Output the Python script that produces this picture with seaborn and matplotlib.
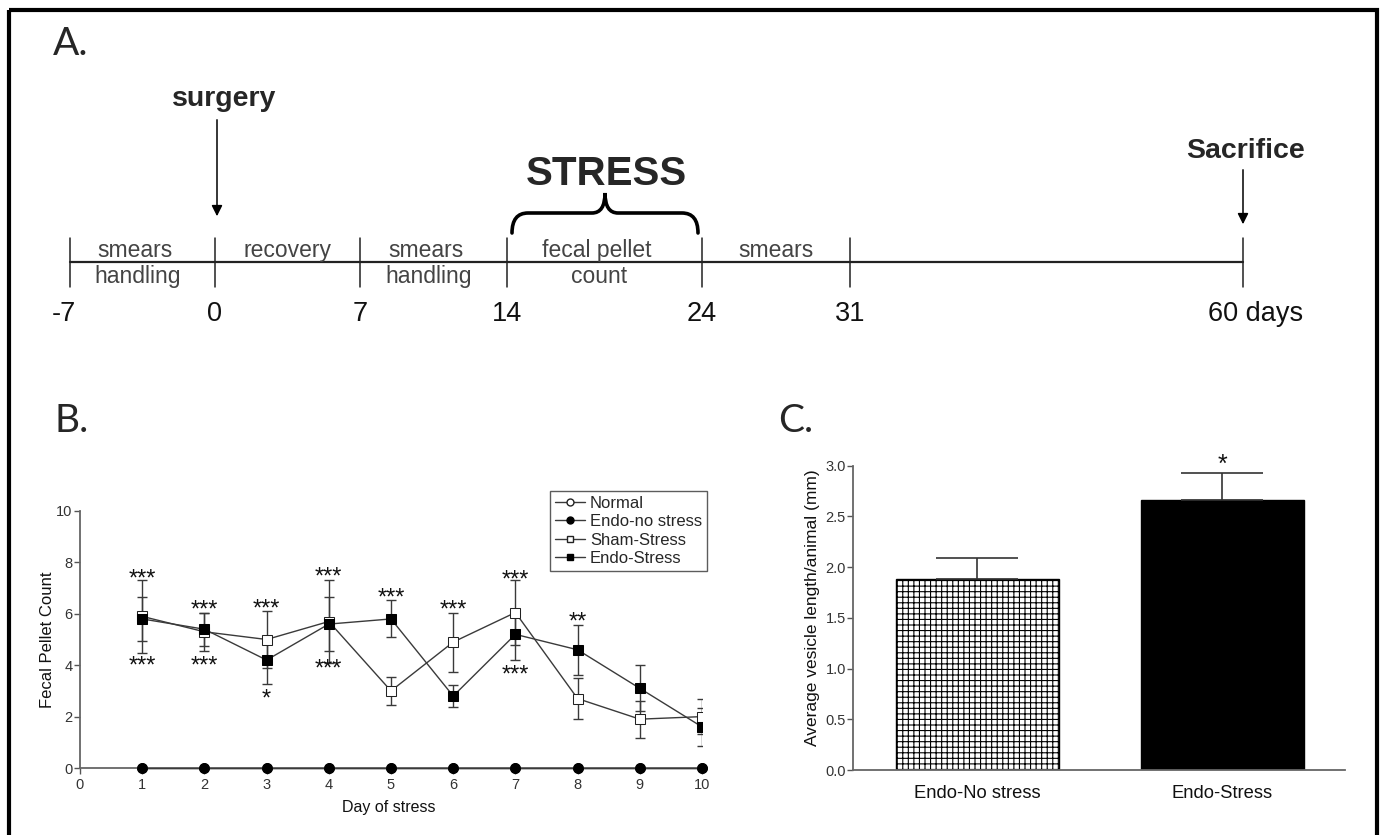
import matplotlib
matplotlib.use("Agg")
import matplotlib.pyplot as plt
from matplotlib.lines import Line2D
from matplotlib.path import Path
from matplotlib.patches import PathPatch, Rectangle
import seaborn as sns
import pandas as pd

# ---------------- data ----------------
# Panel A timeline
timeline_days = ["-7", "0", "7", "14", "24", "31", "60 days"]
segment_top = ["smears", "recovery", "smears", "fecal pellet", "smears"]
segment_bottom = ["handling", "", "handling", "count", ""]

# Panel B
days = [1, 2, 3, 4, 5, 6, 7, 8, 9, 10]
normal_counts = [0, 0, 0, 0, 0, 0, 0, 0, 0, 0]
endo_nostress_counts = [0, 0, 0, 0, 0, 0, 0, 0, 0, 0]
sham_stress_mean = [5.9, 5.3, 5.0, 5.7, 3.0, 4.9, 6.05, 2.7, 1.9, 2.0]
sham_stress_sem = [1.43, 0.75, 1.12, 1.6, 0.53, 1.15, 1.25, 0.8, 0.72, 0.68]
endo_stress_mean = [5.8, 5.4, 4.2, 5.6, 5.8, 2.8, 5.2, 4.6, 3.1, 1.6]
endo_stress_sem = [0.86, 0.65, 0.95, 1.05, 0.72, 0.42, 1.0, 0.98, 0.9, 0.75]
series_labels = ["Normal", "Endo-no stress", "Sham-Stress", "Endo-Stress"]
star_days = [1, 1, 2, 2, 3, 3, 4, 4, 5, 6, 7, 7, 8]
star_levels = [7.57, 4.18, 6.34, 4.18, 6.41, 2.9, 7.64, 4.07, 6.82, 6.34, 7.53, 3.81, 5.89]
star_texts = ["***", "***", "***", "***", "***", "*", "***", "***", "***", "***", "***", "***", "**"]

# Panel C
groups = ["Endo-No stress", "Endo-Stress"]
vesicle_length = [1.88, 2.66]
vesicle_sem = [0.21, 0.27]
c_star = "*"

# ---------------- style ----------------
sns.set_style("ticks")
plt.rcParams["font.family"] = ["Liberation Sans", "DejaVu Sans"]
plt.rcParams["hatch.linewidth"] = 0.8

W, H = 1383, 835
fig = plt.figure(figsize=(W / 100, H / 100), dpi=100)

# ---------------- Panel A (pixel-space canvas) ----------------
axT = fig.add_axes([0, 0, 1, 1])
axT.set_xlim(0, W)
axT.set_ylim(H, 0)
axT.axis("off")

# border
axT.add_patch(Rectangle((9, 10), 1368, 840, fill=False, lw=3, ec="black", clip_on=False))

# panel letters
for txt, x, y in [("A.", 53, 55), ("B.", 55, 432), ("C.", 778, 432)]:
    axT.text(x, y, txt, fontsize=28, family=["Lato", "DejaVu Sans"], ha="left", va="baseline")

tick_x = [70, 215, 360, 507, 702, 850, 1243]
line_y = 262
axT.plot([tick_x[0], tick_x[-1]], [line_y, line_y], color="#222", lw=1.6)
for x in tick_x:
    axT.plot([x, x], [238, 287], color="#222", lw=1.1)
for i, lab in enumerate(timeline_days):
    xx = tick_x[i] if i < len(timeline_days) - 1 else 1256
    if i == 0:
        xx = 64
    axT.text(xx, 321, lab, fontsize=19.5, ha="center", va="baseline", color="#111")
for i in range(len(segment_top)):
    cx = (tick_x[i] + tick_x[i + 1]) / 2 - 8
    if i in (1, 4):
        cx = (tick_x[i] + tick_x[i + 1]) / 2
    axT.text(cx, 257, segment_top[i], fontsize=16.5, ha="center", va="baseline", color="#444")
    if segment_bottom[i]:
        axT.text(cx + 3, 283, segment_bottom[i], fontsize=16.5, ha="center", va="baseline", color="#444")

# surgery / sacrifice arrows
axT.text(224, 106, "surgery", fontsize=20.5, fontweight="bold", ha="center", va="baseline")
axT.annotate("", xy=(217, 219), xytext=(217, 117),
             arrowprops=dict(arrowstyle="-|>", color="black", lw=1.1, mutation_scale=16))
axT.text(1246, 158, "Sacrifice", fontsize=20.5, fontweight="bold", ha="center", va="baseline")
axT.annotate("", xy=(1243, 227), xytext=(1243, 167),
             arrowprops=dict(arrowstyle="-|>", color="black", lw=1.1, mutation_scale=16))

# STRESS brace
axT.text(606, 185, "STRESS", fontsize=29, fontweight="bold", ha="center", va="baseline")
verts = [(512, 233), (512, 213), (528, 213),
         (592, 213), (605, 213), (605, 193),
         (605, 213), (618, 213), (682, 213),
         (698, 213), (698, 233)]
codes = [Path.MOVETO, Path.CURVE3, Path.CURVE3,
         Path.LINETO, Path.CURVE3, Path.CURVE3,
         Path.CURVE3, Path.CURVE3, Path.LINETO,
         Path.CURVE3, Path.CURVE3]
axT.add_patch(PathPatch(Path(verts, codes), fill=False, lw=2.6, ec="black", capstyle="round"))

# ---------------- Panel B ----------------
axB = fig.add_axes([80 / W, 1 - 768 / H, 622 / W, 257 / H])
dfB = pd.DataFrame({"day": days, "normal": normal_counts, "endo_ns": endo_nostress_counts,
                    "sham": sham_stress_mean, "sham_sem": sham_stress_sem,
                    "endo": endo_stress_mean, "endo_sem": endo_stress_sem})
line_col = "#3a3a3a"
ms = 7
sns.lineplot(data=dfB, x="day", y="normal", ax=axB, color=line_col, lw=1, marker="o",
             markersize=ms, markerfacecolor="white", markeredgecolor="black", clip_on=False)
sns.lineplot(data=dfB, x="day", y="endo_ns", ax=axB, color=line_col, lw=1, marker="o",
             markersize=ms, markerfacecolor="black", markeredgecolor="black", clip_on=False, zorder=5)
axB.errorbar(dfB["day"], dfB["sham"], yerr=dfB["sham_sem"], fmt="none", ecolor=line_col,
             elinewidth=1, capsize=3.6, capthick=1, zorder=2)
axB.errorbar(dfB["day"], dfB["endo"], yerr=dfB["endo_sem"], fmt="none", ecolor=line_col,
             elinewidth=1, capsize=3.6, capthick=1, zorder=2)
sns.lineplot(data=dfB, x="day", y="sham", ax=axB, color=line_col, lw=1, marker="s",
             markersize=ms, markerfacecolor="white", markeredgecolor="#222", zorder=3)
sns.lineplot(data=dfB, x="day", y="endo", ax=axB, color=line_col, lw=1, marker="s",
             markersize=ms, markerfacecolor="black", markeredgecolor="black", zorder=4)

for d, lv, t in zip(star_days, star_levels, star_texts):
    axB.annotate(t, (d, lv), xytext=(0, -8.5), textcoords="offset points", ha="center",
                 va="baseline", fontsize=17, color="#111")

axB.set_xlim(0, 10)
axB.set_ylim(0, 10)
axB.set_xticks(range(0, 11))
axB.set_yticks(range(0, 11, 2))
axB.set_xlabel("Day of stress", fontsize=11.5, color="#111")
axB.set_ylabel("Fecal Pellet Count", fontsize=12, color="#111")
axB.xaxis.set_label_coords(0.497, -0.125)
axB.yaxis.set_label_coords(-0.040, 0.5)
axB.tick_params(axis="both", labelsize=10.5, colors="#555", labelcolor="#333", width=1, length=4.5)
axB.tick_params(axis="y", pad=1)
axB.tick_params(axis="x", pad=2.5)
for side in ["top", "right"]:
    axB.spines[side].set_visible(False)
for side in ["left", "bottom"]:
    axB.spines[side].set_color("#666")
    axB.spines[side].set_linewidth(1.3)
axB.patch.set_alpha(0)

handles = [
    Line2D([], [], color=line_col, lw=1, marker="o", markersize=5, mfc="white", mec="#222"),
    Line2D([], [], color=line_col, lw=1, marker="o", markersize=5, mfc="black", mec="black"),
    Line2D([], [], color=line_col, lw=1, marker="s", markersize=5, mfc="white", mec="#222"),
    Line2D([], [], color=line_col, lw=1, marker="s", markersize=5, mfc="black", mec="black"),
]
leg = axB.legend(handles, series_labels, loc="upper left", bbox_to_anchor=(550 / W, 1 - 491 / H),
                 bbox_transform=fig.transFigure, fontsize=12, handlelength=1.8, handletextpad=0.3,
                 labelspacing=0.2, borderpad=0.3, borderaxespad=0, fancybox=False, frameon=True)
leg.get_frame().set_edgecolor("#333")
leg.get_frame().set_linewidth(1)

# ---------------- Panel C ----------------
axC = fig.add_axes([852.7 / W, 1 - 770 / H, 491.8 / W, 304.3 / H])
dfC = pd.DataFrame({"group": groups, "length": vesicle_length, "sem": vesicle_sem})
sns.barplot(data=dfC, x="group", y="length", hue="group", palette=["white", "black"],
            edgecolor="black", linewidth=1, width=0.665, legend=False, errorbar=None, ax=axC)
axC.patches[0].set_hatch("+++")
axC.errorbar([0, 1], dfC["length"], yerr=[[0, 0], dfC["sem"]], fmt="none", ecolor="#333",
             elinewidth=1.2, capsize=29.5, capthick=1.2, zorder=1)
axC.annotate(c_star, (1, 3.04), xytext=(0, -7), textcoords="offset points", fontsize=18,
             ha="center", va="baseline", color="#111", annotation_clip=False)
axC.set_xlim(-0.51, 1.5)
axC.set_ylim(0, 3.0)
axC.set_yticks([0, 0.5, 1.0, 1.5, 2.0, 2.5, 3.0])
axC.set_yticklabels(["0.0", "0.5", "1.0", "1.5", "2.0", "2.5", "3.0"])
axC.set_xlabel("")
axC.set_ylabel("Average vesicle length/animal (mm)", fontsize=12.5, color="#111")
axC.yaxis.set_label_coords(-0.067, 0.534)
axC.tick_params(axis="y", labelsize=10.5, colors="#555", labelcolor="#333", width=1, length=4, pad=1)
axC.tick_params(axis="x", labelsize=13.2, length=0, pad=11, labelcolor="#111")
for side in ["top", "right"]:
    axC.spines[side].set_visible(False)
for side in ["left", "bottom"]:
    axC.spines[side].set_color("#666")
    axC.spines[side].set_linewidth(1.3)
axC.patch.set_alpha(0)

fig.savefig("out.png", dpi=100)
